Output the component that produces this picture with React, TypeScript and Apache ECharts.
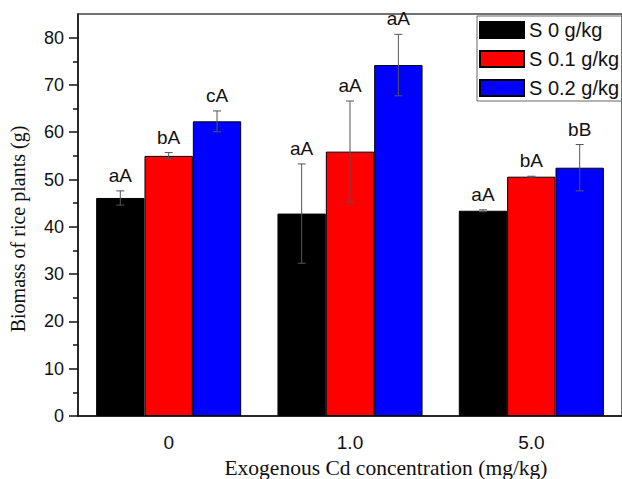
import React, { useEffect, useRef } from "react";
import * as echarts from "echarts";

const categories = ["0", "1.0", "5.0"];
const seriesNames = ["S 0 g/kg", "S 0.1 g/kg", "S 0.2 g/kg"];
const s0Values = [46.1, 42.8, 43.4];
const s1Values = [55.0, 55.9, 50.6];
const s2Values = [62.3, 74.2, 52.5];
const s0Errors = [1.5, 10.5, 0.2];
const s1Errors = [0.7, 10.7, 0.1];
const s2Errors = [2.2, 6.5, 4.9];
const s0Letters = ["aA", "aA", "aA"];
const s1Letters = ["bA", "aA", "bA"];
const s2Letters = ["cA", "aA", "bB"];
const yMajorTicks = [0, 10, 20, 30, 40, 50, 60, 70, 80];
const yMinorTicks = [5, 15, 25, 35, 45, 55, 65, 75];

const colors = ["#000000", "#ff0000", "#0000ff"];
const SANS = "'Liberation Sans', Arial, sans-serif";
const SERIF = "'Liberation Serif', 'Times New Roman', serif";

export default function App() {
  const ref = useRef<HTMLDivElement>(null);
  useEffect(() => {
    if (!ref.current) return;
    const chart = echarts.init(ref.current, null, { renderer: "svg" });
    const values = [s0Values, s1Values, s2Values];
    const errors = [s0Errors, s1Errors, s2Errors];
    const letters = [s0Letters, s1Letters, s2Letters];

    const barSeries = values.map((vals, k) => ({
      name: seriesNames[k],
      type: "bar",
      xAxisIndex: 0,
      yAxisIndex: 0,
      data: vals,
      barGap: "0%",
      barCategoryGap: "20%",
      itemStyle: { color: colors[k], borderColor: "#000", borderWidth: 1 },
      z: 2,
    }));

    const errSeries = values.map((vals, k) => ({
      name: "err" + k,
      type: "custom",
      xAxisIndex: 0,
      yAxisIndex: 0,
      z: 5,
      encode: { x: 0, y: 1 },
      data: vals.map((v, i) => [i, v, errors[k][i]]),
      renderItem: (params: any, api: any) => {
        const ci = api.value(0);
        const v = api.value(1);
        const e = api.value(2);
        const label = letters[k][params.dataIndex];
        const band = api.size([1, 0])[0];
        const bw = (band * 0.8) / 3;
        const center = api.coord([ci, v]);
        const x = center[0] + (k - 1) * bw;
        const top = api.coord([ci, v + e])[1];
        const bot = api.coord([ci, v - e])[1];
        const cap = 4;
        const lineStyle = { stroke: "#555", lineWidth: 1 };
        return {
          type: "group",
          children: [
            { type: "line", shape: { x1: x, y1: top, x2: x, y2: bot }, style: lineStyle },
            { type: "line", shape: { x1: x - cap, y1: top, x2: x + cap, y2: top }, style: lineStyle },
            { type: "line", shape: { x1: x - cap, y1: bot, x2: x + cap, y2: bot }, style: lineStyle },
            {
              type: "text",
              x: x,
              y: top - 6,
              style: {
                text: label,
                fill: "#111",
                font: "19px " + SANS,
                align: "center",
                verticalAlign: "bottom",
              },
            },
          ],
        };
      },
    }));

    chart.setOption({
      animation: false,
      backgroundColor: "#fff",
      grid: {
        left: 78,
        top: 14,
        width: 549,
        height: 402,
        show: true,
        borderColor: "#444",
        borderWidth: 1.5,
        backgroundColor: "transparent",
      },
      legend: {
        data: seriesNames,
        icon: "rect",
        orient: "vertical",
        left: 477,
        top: 16,
        itemWidth: 44,
        itemHeight: 16,
        itemGap: 9,
        padding: [4, 60, 3, 2],
        borderColor: "#666",
        borderWidth: 1,
        textStyle: { fontSize: 20, color: "#111", fontFamily: SANS },
      },
      xAxis: [
        {
          type: "category",
          data: categories,
          position: "bottom",
          axisLine: { lineStyle: { color: "#111", width: 1.5 } },
          axisTick: { alignWithLabel: true, length: 8, lineStyle: { color: "#111", width: 1.5 } },
          axisLabel: { fontSize: 19, color: "#111", fontFamily: SANS, margin: 17 },
        },
        {
          type: "category",
          data: categories,
          position: "bottom",
          axisLine: { show: false },
          axisTick: { alignWithLabel: false, length: 5, lineStyle: { color: "#111", width: 1.5 } },
          axisLabel: { show: false },
        },
      ],
      yAxis: [
        {
          type: "value",
          min: 0,
          max: 85,
          position: "left",
          splitLine: { show: false },
          axisLine: { show: true, lineStyle: { color: "#111", width: 1.5 } },
          axisTick: { show: true, length: 9, customValues: yMajorTicks, lineStyle: { color: "#111", width: 1.5 } },
          axisLabel: { customValues: yMajorTicks, fontSize: 18, color: "#111", fontFamily: SANS, margin: 14 },
        },
        {
          type: "value",
          min: 0,
          max: 85,
          position: "left",
          splitLine: { show: false },
          axisLine: { show: false },
          axisTick: { show: true, length: 5, customValues: yMinorTicks, lineStyle: { color: "#111", width: 1.5 } },
          axisLabel: { show: false },
        },
      ],
      graphic: [
        {
          type: "text",
          x: 18,
          y: 229,
          rotation: Math.PI / 2,
          style: {
            text: "Biomass of rice plants (g)",
            font: "20px " + SERIF,
            fill: "#111",
            align: "center",
            verticalAlign: "middle",
          },
        },
        {
          type: "text",
          x: 386,
          y: 468,
          style: {
            text: "Exogenous Cd concentration (mg/kg)",
            font: "21.5px " + SERIF,
            fill: "#111",
            align: "center",
            verticalAlign: "middle",
          },
        },
      ],
      series: [...barSeries, ...errSeries],
    });
    return () => chart.dispose();
  }, []);
  return (
    <div
      ref={ref}
      style={{ position: "fixed", left: 0, top: 0, width: 622, height: 479, overflow: "hidden" }}
    />
  );
}
